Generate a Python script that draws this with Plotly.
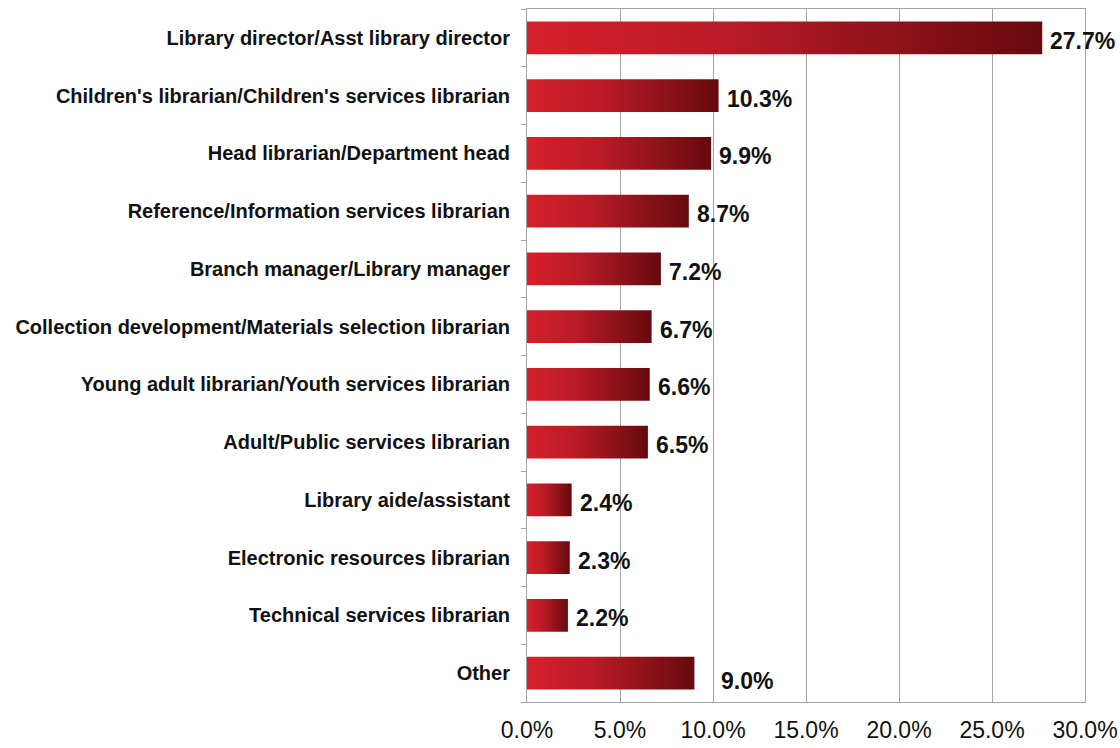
import plotly.graph_objects as go

# Survey: job titles of respondents (share of responses)
titles = [
    "Library director/Asst library director",
    "Children's librarian/Children's services librarian",
    "Head librarian/Department head",
    "Reference/Information services librarian",
    "Branch manager/Library manager",
    "Collection development/Materials selection librarian",
    "Young adult librarian/Youth services librarian",
    "Adult/Public services librarian",
    "Library aide/assistant",
    "Electronic resources librarian",
    "Technical services librarian",
    "Other",
]
shares = [27.7, 10.3, 9.9, 8.7, 7.2, 6.7, 6.6, 6.5, 2.4, 2.3, 2.2, 9.0]
x_ticks = [0, 5, 10, 15, 20, 25, 30]

FONT = "Liberation Sans, Arial, Helvetica, sans-serif"
GRID = "#a3a3a3"
half = 0.285  # half bar thickness in category units

bar_scale = [[0.0, "#d6202c"], [0.4, "#b91b26"], [1.0, "#660a0e"]]

fig = go.Figure()

for i, v in enumerate(shares):
    # each bar is a filled rectangle so it can carry a horizontal gradient
    fig.add_trace(go.Scatter(
        x=[0, v, v, 0, 0],
        y=[i - half, i - half, i + half, i + half, i - half],
        mode="lines",
        line=dict(width=0, color="#8a0f16"),
        fill="toself",
        fillgradient=dict(type="horizontal", colorscale=bar_scale),
        hoverinfo="skip",
        showlegend=False,
    ))
    is_other = titles[i] == "Other"
    fig.add_annotation(
        x=v, y=i, text=f"{v:.1f}%",
        showarrow=False, xanchor="left", yanchor="middle",
        xshift=25 if is_other else 6,
        yshift=-8 if is_other else -3,
        font=dict(family=FONT, size=23, color="#111111", weight="bold"),
    )

fig.update_layout(
    width=1120, height=748,
    margin=dict(l=527, r=35, t=9, b=46),
    paper_bgcolor="white", plot_bgcolor="white",
    showlegend=False,
)

fig.update_xaxes(
    range=[0, 30],
    tickvals=x_ticks,
    ticktext=[f"{t:.1f}%" for t in x_ticks],
    tickfont=dict(family=FONT, size=23, color="#111111"),
    ticklabelstandoff=7, automargin=False,
    showgrid=True, gridcolor=GRID, gridwidth=1,
    showline=True, linecolor=GRID, linewidth=1, mirror=True,
    ticks="", zeroline=False,
)

fig.update_yaxes(
    range=[len(titles) - 0.5, -0.5],
    tickvals=list(range(len(titles))),
    ticktext=titles,
    tickfont=dict(family=FONT, size=20, color="#111111", weight="bold"),
    ticks="", ticklabelstandoff=12, automargin=False,
    minor=dict(tickmode="linear", tick0=-0.5, dtick=1, ticks="outside",
               ticklen=5, tickcolor=GRID, showgrid=False),
    showgrid=False, zeroline=False,
    showline=True, linecolor=GRID, linewidth=1, mirror=True,
)

fig.write_html("out.html")
